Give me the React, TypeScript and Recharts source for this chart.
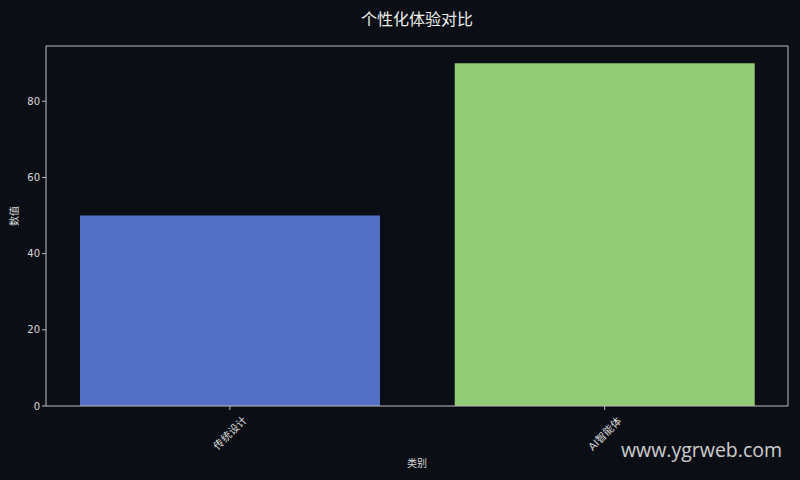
import React from "react";
import { BarChart, Bar, XAxis, YAxis, Cell, Label } from "recharts";

const categories = ["传统设计", "AI智能体"];
const values = [50, 90];
const barColors = ["#5470c6", "#91cc75"];
const yTicks = [0, 20, 40, 60, 80];

const data = categories.map((c, i) => ({ name: c, value: values[i] }));

const FONT = "'DejaVu Sans', 'Noto Sans CJK SC', sans-serif";
const TXT = "#d8d8d8";
const AXIS = "#bdbdbd";

const textWidth = (s: string) =>
  Array.from(s).reduce((w, ch) => w + (ch.charCodeAt(0) > 255 ? 10.5 : 6.5), 0);

const XTick = (props: any) => {
  const { x, y, payload } = props;
  const w = textWidth(String(payload.value));
  const h = 11;
  const half = (w + h) * Math.SQRT1_2 / 2;
  return (
    <g transform={`translate(${x},${y + 2 + half})`}>
      <text
        transform="rotate(-45)"
        textAnchor="middle"
        dominantBaseline="central"
        fill={TXT}
        fontSize={10.5}
        fontFamily={FONT}
      >
        {payload.value}
      </text>
    </g>
  );
};

export default function App() {
  return (
    <div
      style={{
        position: "fixed",
        left: 0,
        top: 0,
        width: 800,
        height: 480,
        background: "#0b0e14",
        fontFamily: FONT,
      }}
    >
      <div
        style={{
          position: "absolute",
          top: 6,
          left: 0,
          width: 834,
          textAlign: "center",
          color: "#eeeeee",
          fontSize: 16,
          fontFamily: "'Noto Sans CJK SC', sans-serif",
        }}
      >
        个性化体验对比
      </div>
      <BarChart
        width={800}
        height={480}
        data={data}
        margin={{ top: 45, right: 11, bottom: 0, left: 0 }}
        barCategoryGap="10%"
      >
        <XAxis
          dataKey="name"
          height={74}
          stroke={AXIS}
          tickLine={{ stroke: AXIS }}
          tickSize={4}
          interval={0}
          padding={{ left: -3.5, right: -4 }}
          tick={<XTick />}
        >
          <Label
            value="类别"
            position="insideBottom"
            offset={13}
            fill={TXT}
            fontSize={10}
            fontFamily={FONT}
          />
        </XAxis>
        <XAxis
          xAxisId="top"
          orientation="top"
          dataKey="name"
          height={1}
          tick={false}
          tickLine={false}
          stroke={AXIS}
        />
        <YAxis
          width={46}
          domain={[0, 94.5]}
          ticks={yTicks}
          stroke={AXIS}
          tickSize={4}
          tick={{ fill: TXT, fontSize: 10, fontFamily: FONT }}
          allowDataOverflow
        >
          <Label
            value="数值"
            angle={-90}
            position="insideLeft"
            offset={14}
            fill={TXT}
            fontSize={10}
            fontFamily={FONT}
          />
        </YAxis>
        <YAxis
          yAxisId="right"
          orientation="right"
          width={1}
          domain={[0, 94.5]}
          tick={false}
          tickLine={false}
          stroke={AXIS}
        />
        <Bar dataKey="value" isAnimationActive={false}>
          {data.map((d, i) => (
            <Cell key={d.name} fill={barColors[i]} />
          ))}
        </Bar>
      </BarChart>
      <div
        style={{
          position: "absolute",
          left: 621,
          top: 436,
          color: "#e0e0e0",
          fontSize: 19.5,
          fontFamily: "'Open Sans', 'DejaVu Sans', sans-serif",
          opacity: 0.9,
        }}
      >
        www.ygrweb.com
      </div>
    </div>
  );
}
